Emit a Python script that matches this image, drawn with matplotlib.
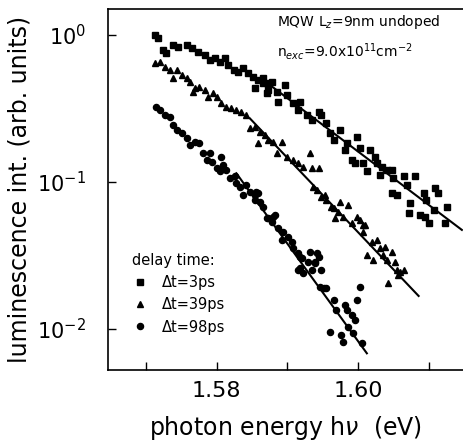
import matplotlib
matplotlib.use("Agg")
import matplotlib.pyplot as plt
from matplotlib.lines import Line2D

# delay 3 ps (squares)
e_3ps = [1.5713, 1.5718, 1.5725, 1.5729, 1.5739, 1.5746, 1.5758, 1.5765, 1.5774, 1.5784,
         1.5791, 1.5798, 1.5805, 1.5812, 1.5816, 1.5824, 1.5831, 1.5838, 1.5845, 1.5852,
         1.5859, 1.5854, 1.5866, 1.5871, 1.5873, 1.5866, 1.5878, 1.5871, 1.5885, 1.5896,
         1.5899, 1.5887, 1.5908, 1.5918, 1.5915, 1.5927, 1.5934, 1.5944, 1.5948, 1.5955,
         1.5960, 1.5974, 1.5965, 1.5984, 1.5981, 1.5998, 1.6002, 1.6016, 1.5991, 1.5995,
         1.6007, 1.6012, 1.6024, 1.6026, 1.6033, 1.6031, 1.6040, 1.6047, 1.6049, 1.6064,
         1.6068, 1.6080, 1.6047, 1.6054, 1.6073, 1.6071, 1.6092, 1.6096, 1.6108, 1.6113,
         1.6106, 1.6087, 1.6094, 1.6099, 1.6125, 1.6122]
i_3ps = [1.0, 0.949, 0.791, 0.750, 0.855, 0.833, 0.855, 0.811, 0.770, 0.731,
         0.676, 0.694, 0.659, 0.694, 0.625, 0.578, 0.563, 0.593, 0.548, 0.521,
         0.494, 0.434, 0.507, 0.469, 0.422, 0.469, 0.481, 0.401, 0.412, 0.457,
         0.391, 0.352, 0.343, 0.352, 0.309, 0.286, 0.264, 0.301, 0.286, 0.251,
         0.214, 0.226, 0.193, 0.183, 0.165, 0.203, 0.169, 0.165, 0.141, 0.134,
         0.134, 0.118, 0.149, 0.134, 0.127, 0.112, 0.121, 0.121, 0.106, 0.109,
         0.0954, 0.109, 0.0838, 0.0816, 0.0716, 0.0612, 0.0838, 0.0755, 0.0906, 0.0838,
         0.0645, 0.0597, 0.0581, 0.0523, 0.0680, 0.0523]

# delay 39 ps (triangles)
e_39ps = [1.5713, 1.5720, 1.5727, 1.5734, 1.5739, 1.5744, 1.5751, 1.5758, 1.5762, 1.5769,
          1.5767, 1.5776, 1.5784, 1.5788, 1.5795, 1.5800, 1.5807, 1.5814, 1.5821, 1.5828,
          1.5835, 1.5842, 1.5847, 1.5854, 1.5861, 1.5868, 1.5873, 1.5880, 1.5859, 1.5885,
          1.5892, 1.5899, 1.5908, 1.5915, 1.5932, 1.5922, 1.5934, 1.5944, 1.5936, 1.5948,
          1.5955, 1.5974, 1.5986, 1.5965, 1.5972, 1.5979, 1.5998, 1.6002, 1.6007, 1.5991,
          1.5941, 1.5953, 1.5962, 1.5967, 1.6009, 1.6007, 1.6019, 1.6026, 1.6031, 1.6038,
          1.6047, 1.6021, 1.6035, 1.6040, 1.6054, 1.6064, 1.6056, 1.6042, 1.6012, 1.6052,
          1.6059]
i_39ps = [0.641, 0.659, 0.609, 0.578, 0.507, 0.578, 0.534, 0.507, 0.481, 0.434,
          0.412, 0.445, 0.422, 0.381, 0.401, 0.381, 0.343, 0.325, 0.317, 0.309,
          0.301, 0.286, 0.232, 0.238, 0.220, 0.209, 0.193, 0.188, 0.183, 0.157,
          0.188, 0.149, 0.141, 0.134, 0.157, 0.127, 0.124, 0.124, 0.0929, 0.0795,
          0.0755, 0.0735, 0.0697, 0.0662, 0.0628, 0.0581, 0.0581, 0.0551, 0.0510, 0.0523,
          0.0882, 0.0816, 0.0680, 0.0566, 0.0510, 0.0460, 0.0393, 0.0403, 0.0354, 0.0363,
          0.0336, 0.0295, 0.0319, 0.0295, 0.0252, 0.0252, 0.0233, 0.0205, 0.0319, 0.0287,
          0.0245]

# delay 98 ps (circles)
e_98ps = [1.5715, 1.5720, 1.5727, 1.5734, 1.5739, 1.5744, 1.5751, 1.5758, 1.5762, 1.5769,
          1.5776, 1.5781, 1.5791, 1.5786, 1.5793, 1.5800, 1.5807, 1.5809, 1.5814, 1.5805,
          1.5819, 1.5826, 1.5828, 1.5833, 1.5838, 1.5842, 1.5847, 1.5854, 1.5859, 1.5861,
          1.5866, 1.5871, 1.5882, 1.5856, 1.5854, 1.5873, 1.5880, 1.5878, 1.5887, 1.5894,
          1.5892, 1.5901, 1.5906, 1.5908, 1.5915, 1.5932, 1.5941, 1.5920, 1.5929, 1.5939,
          1.5915, 1.5922, 1.5934, 1.5948, 1.5946, 1.5955, 1.5918, 1.5944, 1.5939, 1.5918,
          1.5951, 1.6002, 1.5998, 1.5965, 1.5969, 1.5981, 1.5984, 1.5991, 1.5995, 1.5986,
          1.5993, 1.6005, 1.5960, 1.5976, 1.5979]
i_98ps = [0.325, 0.309, 0.286, 0.278, 0.244, 0.226, 0.214, 0.198, 0.179, 0.188,
          0.183, 0.157, 0.157, 0.141, 0.137, 0.124, 0.149, 0.130, 0.121, 0.118,
          0.106, 0.109, 0.098, 0.0929, 0.0816, 0.0954, 0.0859, 0.0816, 0.0838, 0.0735,
          0.0680, 0.0566, 0.0597, 0.0859, 0.0755, 0.0566, 0.0581, 0.0537, 0.0484, 0.0460,
          0.0403, 0.0425, 0.0393, 0.0354, 0.0327, 0.0336, 0.0327, 0.0303, 0.0287, 0.0287,
          0.0252, 0.0239, 0.0252, 0.0252, 0.0194, 0.0189, 0.0311, 0.0311, 0.0280, 0.0259,
          0.0189, 0.0194, 0.01575, 0.01575, 0.01347, 0.01457, 0.01347, 0.01245, 0.01151, 0.01037,
          0.00934, 0.00799, 0.00959, 0.00910, 0.00820]

# exponential fits (end points)
fit_3ps_e = [1.5866, 1.6146]
fit_3ps_i = [0.494, 0.0472]
fit_39ps_e = [1.5847, 1.6085]
fit_39ps_i = [0.271, 0.01677]
fit_98ps_e = [1.5828, 1.6012]
fit_98ps_i = [0.1146, 0.00683]

labels = ["Δt=3ps", "Δt=39ps", "Δt=98ps"]

plt.rcParams["font.family"] = "DejaVu Sans"
plt.rcParams["mathtext.fontset"] = "dejavusans"

fig = plt.figure(figsize=(4.64, 4.47), dpi=100)
ax = fig.add_axes([0.2328, 0.1723, 0.7672, 0.8076])

ax.plot(fit_3ps_e, fit_3ps_i, color="black", lw=1.5)
ax.plot(fit_39ps_e, fit_39ps_i, color="black", lw=1.5)
ax.plot(fit_98ps_e, fit_98ps_i, color="black", lw=1.5)

ms_sq, ms_tri, ms_dot = 4.2, 4.6, 4.4
ax.plot(e_3ps, i_3ps, "s", color="black", ms=ms_sq, ls="none")
ax.plot(e_39ps, i_39ps, "^", color="black", ms=ms_tri, ls="none")
ax.plot(e_98ps, i_98ps, "o", color="black", ms=ms_dot, ls="none")

ax.set_yscale("log")
ax.set_xlim(1.5647, 1.6149)
ax.set_ylim(0.00526, 1.503)

ax.set_xticks([1.57, 1.58, 1.59, 1.60, 1.61])
ax.set_xticklabels(["", "1.58", "", "1.60", ""])
ax.set_yticks([1, 0.1, 0.01])
ax.set_yticklabels(["$10^{0}$", "$10^{-1}$", "$10^{-2}$"])
ax.minorticks_off()
ax.tick_params(axis="both", direction="in", length=6, width=1)
ax.tick_params(axis="x", labelsize=16, pad=8)
ax.tick_params(axis="y", labelsize=15, pad=16)
ax.spines["right"].set_visible(False)
for s in ["left", "bottom", "top"]:
    ax.spines[s].set_linewidth(1.2)

ax.set_xlabel("photon energy h$\\nu$  (eV)", fontsize=17, labelpad=9)
ax.set_ylabel("luminescence int. (arb. units)", fontsize=17, labelpad=4)

ax.text(0.475, 0.99, "MQW L$_z$=9nm undoped", transform=ax.transAxes,
        fontsize=10, va="top", ha="left")
ax.text(0.475, 0.91, "n$_{exc}$=9.0x10$^{11}$cm$^{-2}$", transform=ax.transAxes,
        fontsize=10, va="top", ha="left")

handles = [Line2D([], [], marker="s", color="black", ls="none", ms=ms_sq),
           Line2D([], [], marker="^", color="black", ls="none", ms=ms_tri),
           Line2D([], [], marker="o", color="black", ls="none", ms=ms_dot)]
leg = ax.legend(handles, labels, title="delay time:", loc="lower left",
                bbox_to_anchor=(0.04, 0.07), frameon=False, fontsize=10.5,
                title_fontsize=10.5, handlelength=1.0, handletextpad=1.0,
                labelspacing=0.5, alignment="left", borderpad=0.2)

fig.savefig("out.png", dpi=100)
